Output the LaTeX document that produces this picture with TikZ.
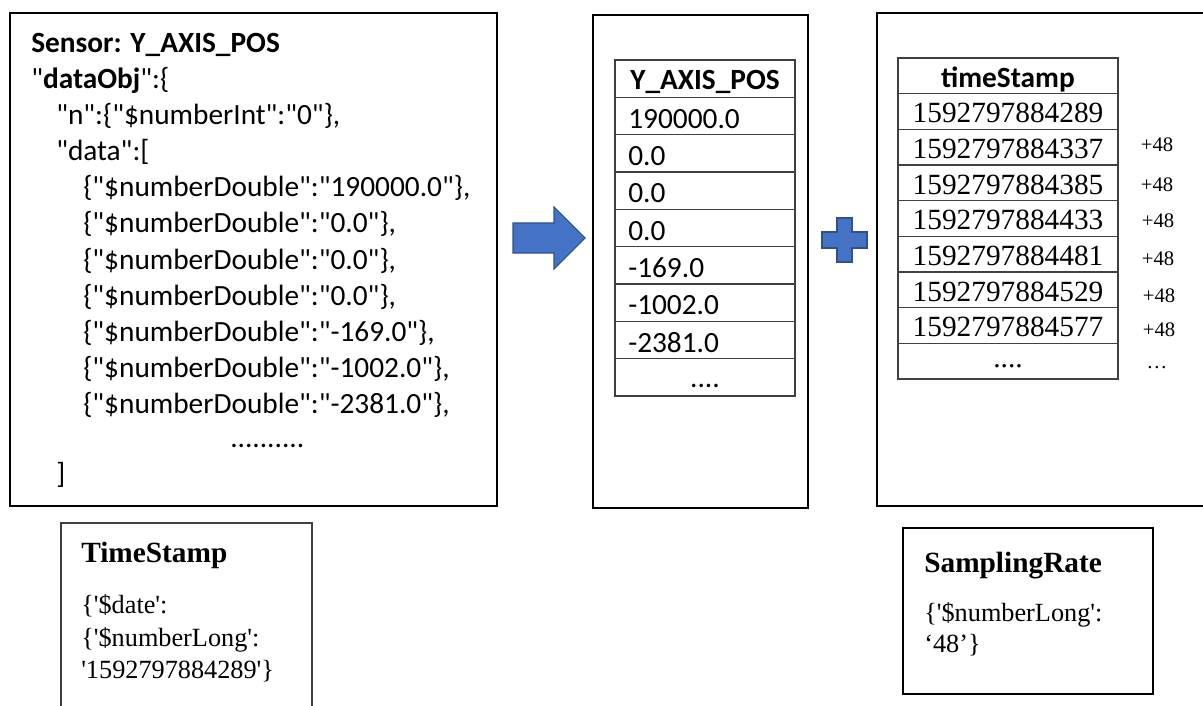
\documentclass[tikz,border=0pt]{standalone}
\usepackage{fontspec}
\setmainfont{Carlito}[Ligatures=TeXOff]
\newfontfamily\tms{Liberation Serif}[Ligatures=TeXOff]
\definecolor{offblue}{HTML}{4472C4}
\definecolor{offblueline}{HTML}{2F528F}
\definecolor{cellgray}{HTML}{404040}
\begin{document}
\begin{tikzpicture}[x=0.75pt,y=-0.75pt,
  mainbox/.style={draw=black,line width=1.7pt},
  cellbox/.style={draw=cellgray,line width=0.9pt},
  notebox/.style={draw=cellgray,line width=1.1pt},
  jtxt/.style={anchor=base west,inner sep=0pt,font=\fontsize{22}{26}\selectfont},
  celltxt/.style={anchor=base west,inner sep=0pt,font=\fontsize{22}{26}\selectfont},
  tstxt/.style={anchor=base,inner sep=0pt,font=\tms\fontsize{22}{26}\selectfont},
  hdtxt/.style={anchor=base,inner sep=0pt,font=\bfseries\fontsize{22}{26}\selectfont},
  inctxt/.style={anchor=base,inner sep=0pt,font=\tms\fontsize{15.5}{18}\selectfont},
  nthead/.style={anchor=base west,inner sep=0pt,font=\tms\bfseries\fontsize{22}{26}\selectfont},
  ntbody/.style={anchor=base west,inner sep=0pt,font=\tms\fontsize{19.7}{24}\selectfont},
  bluefill/.style={fill=offblue,draw=offblueline,line width=0.8pt}]
\useasboundingbox (0,0) rectangle (1203,706);

% ---------- box 1 : JSON ----------
\draw[mainbox] (10,13) rectangle (497,506);
\node[jtxt] (j0)  at (31,53)  {\textbf{Sensor: Y\_AXIS\_POS}};
\node[jtxt] (j1)  at (31,89)  {"\textbf{dataObj}":\{};
\node[jtxt] (j2)  at (56,125) {"n":\{"\$numberInt":"0"\},};
\node[jtxt] (j3)  at (56,161) {"data":[};
\node[jtxt] (j4)  at (83,197) {\{"\$numberDouble":"190000.0"\},};
\node[jtxt] (j5)  at (83,233) {\{"\$numberDouble":"0.0"\},};
\node[jtxt] (j6)  at (83,269) {\{"\$numberDouble":"0.0"\},};
\node[jtxt] (j7)  at (83,305) {\{"\$numberDouble":"0.0"\},};
\node[jtxt] (j8)  at (83,341) {\{"\$numberDouble":"-169.0"\},};
\node[jtxt] (j9)  at (83,377) {\{"\$numberDouble":"-1002.0"\},};
\node[jtxt] (j10) at (83,413) {\{"\$numberDouble":"-2381.0"\},};
\node[jtxt] (j11) at (230,447) {..........};
\node[jtxt] (j12) at (56,483) {]};

% ---------- arrow ----------
\draw[bluefill] (513,223) -- (554,223) -- (554,207) -- (585,238) -- (554,269)
  -- (554,253) -- (513,253) -- cycle;

% ---------- box 2 : Y_AXIS_POS table ----------
\draw[mainbox] (593,15) rectangle (808,508);
\foreach \i in {0,...,8} {
  \draw[cellbox] (615,{60+37.33*\i}) rectangle (795,{60+37.33*(\i+1)});
}
\node[hdtxt] (yh) at (705,90) {Y\_AXIS\_POS};
\foreach \v [count=\i] in {190000.0,0.0,0.0,0.0,-169.0,-1002.0,-2381.0} {
  \node[celltxt] (y\i) at (628,{60+37.33*\i+31}) {\v};
}
\node[anchor=base,inner sep=0pt,font=\fontsize{22}{26}\selectfont] (ydots) at (705,387) {....};

% ---------- plus ----------
\draw[bluefill] (837,218) -- (852,218) -- (852,232) -- (867,232) -- (867,248)
  -- (852,248) -- (852,262) -- (837,262) -- (837,248) -- (822,248) -- (822,232)
  -- (837,232) -- cycle;

% ---------- box 3 : timeStamp table ----------
\draw[mainbox] (1210,13) -- (877,13) -- (877,506) -- (1210,506);
\foreach \i in {0,...,8} {
  \draw[cellbox] (898,{58+35.67*\i}) rectangle (1118,{58+35.67*(\i+1)});
}
\node[hdtxt] (th) at (1008,88) {timeStamp};
\foreach \v [count=\i] in {1592797884289,1592797884337,1592797884385,1592797884433,1592797884481,1592797884529,1592797884577} {
  \node[tstxt] (t\i) at (1008,{58+35.67*\i+29}) {\v};
}
\node[tstxt] (tdots) at (1008,367) {....};
\node[inctxt] (p1) at (1157,152) {+48};
\node[inctxt] (p2) at (1157,191) {+48};
\node[inctxt] (p3) at (1158,228) {+48};
\node[inctxt] (p4) at (1158,265) {+48};
\node[inctxt] (p5) at (1159,302) {+48};
\node[inctxt] (p6) at (1159,336) {+48};
\node[inctxt] (p7) at (1157,368) {…};

% ---------- TimeStamp note ----------
\draw[notebox] (61,720) -- (61,523) -- (312,523) -- (312,720);
\node[nthead] (tsh) at (81,562) {TimeStamp};
\node[ntbody] (ts1) at (81,613) {\{'\$date':};
\node[ntbody] (ts2) at (81,646) {\{'\$numberLong':};
\node[ntbody] (ts3) at (81,678) {'1592797884289'\}};

% ---------- SamplingRate note ----------
\draw[black,line width=1.5pt] (903,528) rectangle (1153,694);
\node[nthead] (srh) at (924,572) {SamplingRate};
\node[ntbody] (sr1) at (924,621) {\{'\$numberLong':};
\node[ntbody] (sr2) at (924,652) {‘48’\}};
\end{tikzpicture}
\end{document}
